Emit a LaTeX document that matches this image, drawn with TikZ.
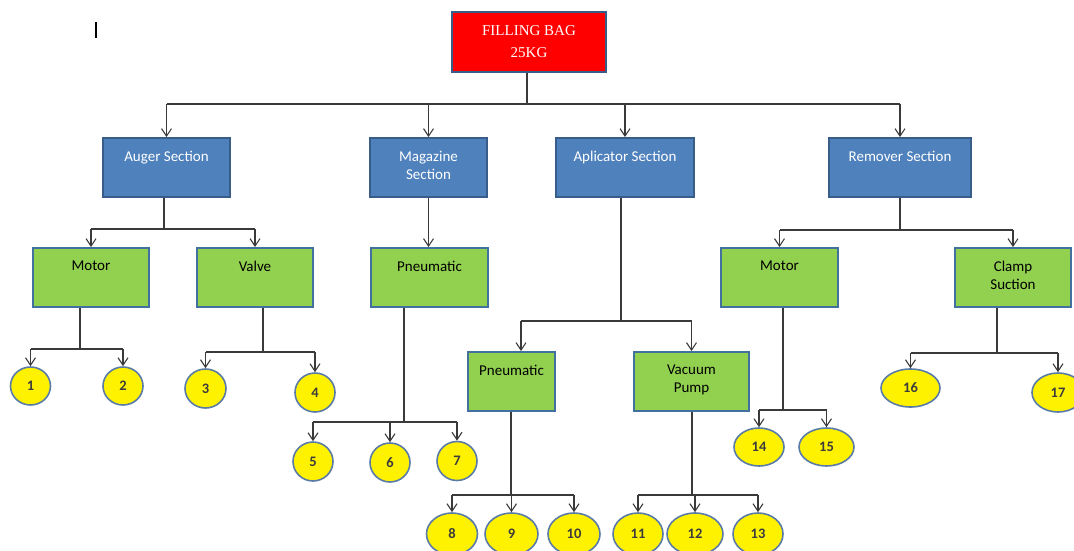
\documentclass[tikz,border=0pt]{standalone}
\usepackage{fontspec}
\setmainfont{Carlito}
\newfontfamily\timesf{Liberation Serif}
\usetikzlibrary{arrows.meta,shapes.geometric}
\definecolor{secblue}{HTML}{4F81BD}
\definecolor{secborder}{HTML}{385D8A}
\definecolor{subgreen}{HTML}{92D050}
\definecolor{subborder}{HTML}{41719C}
\definecolor{leafborder}{HTML}{5A7BA6}
\definecolor{linecol}{HTML}{3A3A3A}
\definecolor{numcol}{HTML}{3C3C3C}
\definecolor{topred}{HTML}{FF0000}
\begin{document}
\begin{tikzpicture}[x=1pt,y=-1pt,
  conn/.style={draw=linecol, line width=1.2pt},
  arr/.style={conn, -{Straight Barb[length=7.5pt,width=10pt,line width=1.1pt]}},
  boxbase/.style={rectangle, line width=1.8pt, inner sep=0pt, minimum height=59pt},
  sect/.style={boxbase, fill=secblue, draw=secborder},
  sub/.style={boxbase, fill=subgreen, draw=subborder},
  leaf/.style={ellipse, fill=yellow, draw=leafborder, line width=1.6pt, inner sep=0pt, text=numcol, font=\bfseries\fontsize{14.5}{15}\selectfont},
  stxt/.style={font=\fontsize{15}{18}\selectfont, align=center, text=white, anchor=north, inner sep=0pt, yshift=-14pt},
  gtxt/.style={stxt, text=black},
]
\useasboundingbox (0,0) rectangle (1074,550);
\clip (0,0) rectangle (1074,550);
% cursor mark
\coordinate (cur1) at (96,22);
\coordinate (cur2) at (96,38);
\draw[line width=1.2pt, black] (cur1) -- (cur2);

% top
\node[boxbase, fill=topred, draw=secborder, minimum width=154pt, minimum height=60pt,
  text=white, align=center, font=\timesf\fontsize{15}{22}\selectfont] (top) at (529,42) {FILLING BAG\\25KG};

% sections
\node[sect, minimum width=127pt, label={[stxt]north:Auger Section}] (auger) at (166.5,167.5) {};
\node[sect, minimum width=117pt, label={[stxt]north:Magazine\\Section}] (mag) at (428.5,167.5) {};
\node[sect, minimum width=138pt, label={[stxt]north:Aplicator Section}] (apl) at (625,167.5) {};
\node[sect, minimum width=142pt, label={[stxt]north:Remover Section}] (rem) at (900,167.5) {};

% sub boxes
\node[sub, minimum width=116pt, label={[gtxt]north:Motor}] (gmotor) at (91,277.5) {};
\node[sub, minimum width=116pt, label={[gtxt]north:Valve}] (valve) at (255,277.5) {};
\node[sub, minimum width=117pt, label={[gtxt]north:Pneumatic}] (mpneu) at (429.5,277.5) {};
\node[sub, minimum width=87pt, label={[gtxt]north:Pneumatic}] (apneu) at (511.5,381.5) {};
\node[sub, minimum width=115pt, label={[gtxt]north:Vacuum\\Pump}] (vac) at (691.5,381.5) {};
\node[sub, minimum width=117pt, label={[gtxt]north:Motor}] (rmotor) at (779.5,277.5) {};
\node[sub, minimum width=116pt, label={[gtxt]north:Clamp\\Suction}] (clamp) at (1013,277.5) {};

% leaves
\node[leaf, minimum width=40pt, minimum height=38pt] (c1) at (30.5,386) {1};
\node[leaf, minimum width=40pt, minimum height=38pt] (c2) at (123,386) {2};
\node[leaf, minimum width=41pt, minimum height=39pt] (c3) at (205.5,388.5) {3};
\node[leaf, minimum width=40pt, minimum height=39pt] (c4) at (315,392.5) {4};
\node[leaf, minimum width=40pt, minimum height=39pt] (c5) at (313,461.5) {5};
\node[leaf, minimum width=40pt, minimum height=39pt] (c6) at (390,462.5) {6};
\node[leaf, minimum width=40pt, minimum height=39pt] (c7) at (457,461) {7};
\node[leaf, minimum width=51pt, minimum height=42pt] (c8) at (452,534) {8};
\node[leaf, minimum width=53pt, minimum height=42pt] (c9) at (511.5,534) {9};
\node[leaf, minimum width=52pt, minimum height=42pt] (c10) at (574,534) {10};
\node[leaf, minimum width=50pt, minimum height=42pt] (c11) at (638,534) {11};
\node[leaf, minimum width=56pt, minimum height=42pt] (c12) at (695,534) {12};
\node[leaf, minimum width=50pt, minimum height=42pt] (c13) at (758,534) {13};
\node[leaf, minimum width=50pt, minimum height=38pt] (c14) at (759,447) {14};
\node[leaf, minimum width=55pt, minimum height=38pt] (c15) at (826.5,447) {15};
\node[leaf, minimum width=59pt, minimum height=38pt] (c16) at (910.5,388) {16};
\node[leaf, minimum width=52pt, minimum height=39pt] (c17) at (1058,392.5) {17};

% top level connectors
\coordinate (jt) at (527,104);
\draw[conn] (top.south -| jt) -- (jt);
\draw[conn] (auger.north |- jt) -- (rem.north |- jt);
\foreach \n in {auger,mag,apl,rem} \draw[arr] (\n.north |- jt) -- (\n.north);

% auger
\coordinate (ja) at (164,229);
\draw[conn] (auger.south -| ja) -- (ja);
\draw[conn] (gmotor.north |- ja) -- (valve.north |- ja);
\draw[arr] (gmotor.north |- ja) -- (gmotor.north);
\draw[arr] (valve.north |- ja) -- (valve.north);

% magazine
\draw[arr] (mag.south) -- (mag.south |- mpneu.north);

% aplicator
\coordinate (jp) at (621,321);
\coordinate (jpl) at (521,321);
\draw[conn] (apl.south -| jp) -- (jp);
\draw[conn] (jpl) -- (vac.north |- jp);
\draw[arr] (jpl) -- (jpl |- apneu.north);
\draw[arr] (vac.north |- jp) -- (vac.north);

% remover
\coordinate (jr) at (900,230);
\draw[conn] (rem.south) -- (jr);
\draw[conn] (rmotor.north |- jr) -- (clamp.north |- jr);
\draw[arr] (rmotor.north |- jr) -- (rmotor.north);
\draw[arr] (clamp.north |- jr) -- (clamp.north);

% motor (auger) -> 1,2
\coordinate (dm) at (80,349);
\draw[conn] (gmotor.south -| dm) -- (dm);
\draw[conn] (c1.north |- dm) -- (c2.north |- dm);
\draw[arr] (c1.north |- dm) -- (c1.north);
\draw[arr] (c2.north |- dm) -- (c2.north);

% valve -> 3,4
\coordinate (dv) at (263,352);
\draw[conn] (valve.south -| dv) -- (dv);
\draw[conn] (c3.north |- dv) -- (c4.north |- dv);
\draw[arr] (c3.north |- dv) -- (c3.north);
\draw[arr] (c4.north |- dv) -- (c4.north);

% magazine pneumatic -> 5,6,7
\coordinate (dp) at (404,422);
\draw[conn] (mpneu.south -| dp) -- (dp);
\draw[conn] (c5.north |- dp) -- (c7.north |- dp);
\foreach \c in {c5,c6,c7} \draw[arr] (\c.north |- dp) -- (\c.north);

% aplicator pneumatic -> 8,9,10
\coordinate (da) at (511,495);
\draw[conn] (apneu.south -| da) -- (da);
\draw[conn] (c8.north |- da) -- (c10.north |- da);
\foreach \c in {c8,c9,c10} \draw[arr] (\c.north |- da) -- (\c.north);

% vacuum pump -> 11,12,13
\coordinate (dq) at (692,495);
\draw[conn] (vac.south -| dq) -- (dq);
\draw[conn] (c11.north |- dq) -- (c13.north |- dq);
\foreach \c in {c11,c12,c13} \draw[arr] (\c.north |- dq) -- (\c.north);

% remover motor -> 14,15
\coordinate (dr) at (783,410);
\draw[conn] (rmotor.south -| dr) -- (dr);
\draw[conn] (c14.north |- dr) -- (c15.north |- dr);
\draw[arr] (c14.north |- dr) -- (c14.north);
\draw[arr] (c15.north |- dr) -- (c15.north);

% clamp suction -> 16,17
\coordinate (dc) at (997,353);
\draw[conn] (clamp.south -| dc) -- (dc);
\draw[conn] (c16.north |- dc) -- (c17.north |- dc);
\draw[arr] (c16.north |- dc) -- (c16.north);
\draw[arr] (c17.north |- dc) -- (c17.north);
\end{tikzpicture}
\end{document}
